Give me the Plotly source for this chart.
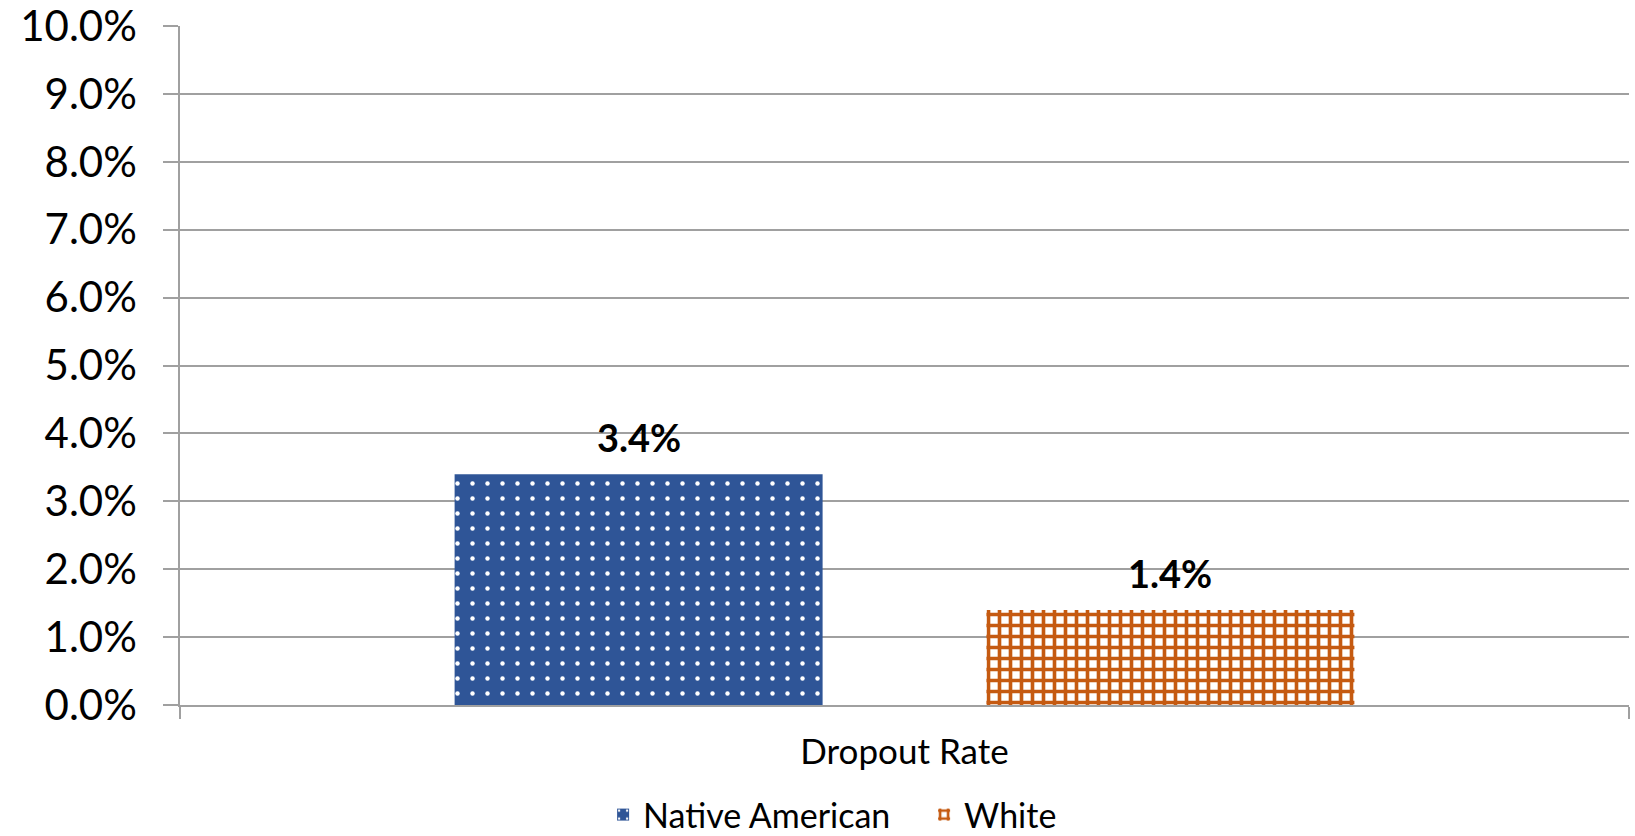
import plotly.graph_objects as go

categories = ["Dropout Rate"]
series_names = ["Native American", "White"]
native_values = [0.034]
white_values = [0.014]
y_tick_values = [0.0, 0.01, 0.02, 0.03, 0.04, 0.05, 0.06, 0.07, 0.08, 0.09, 0.10]
y_tick_labels = ["0.0%", "1.0%", "2.0%", "3.0%", "4.0%", "5.0%", "6.0%", "7.0%", "8.0%", "9.0%", "10.0%"]

BLUE = "#2F5597"
ORANGE = "#C55A11"
GRID = "#A0A0A0"
FONT = "Lato"

BARGAP = 0.266
BARGROUPGAP = 0.308

fig = go.Figure()
fig.add_trace(go.Bar(
    name=series_names[0], x=categories, y=native_values,
    marker=dict(color=BLUE, line=dict(width=0),
                pattern=dict(shape=".", bgcolor=BLUE, fgcolor="white", fgopacity=1,
                             size=15, solidity=0.07, fillmode="replace")),
    hoverinfo="skip",
))
fig.add_trace(go.Bar(
    name=series_names[1], x=categories, y=white_values,
    marker=dict(color=ORANGE, line=dict(width=0),
                pattern=dict(shape="+", bgcolor="white", fgcolor=ORANGE, fgopacity=1,
                             size=11, solidity=0.55, fillmode="replace")),
    hoverinfo="skip",
))

# data labels above bars
group_w = 1 - BARGAP
offsets = [-group_w / 4, group_w / 4]
for off, vals in zip(offsets, [native_values, white_values]):
    for i, v in enumerate(vals):
        fig.add_annotation(
            x=i + off, y=v, xref="x", yref="y",
            text="<b>%.1f%%</b>" % (v * 100),
            showarrow=False, yanchor="bottom", yshift=12,
            font=dict(family=FONT, size=38, color="black"),
        )

fig.update_layout(
    width=1635, height=836,
    margin=dict(l=180, r=6, t=26, b=131, autoexpand=False),
    paper_bgcolor="white", plot_bgcolor="white",
    barmode="group", bargap=BARGAP, bargroupgap=BARGROUPGAP,
    font=dict(family=FONT, color="black"),
    showlegend=True,
    legend=dict(orientation="h", x=0.292, xanchor="left", y=-0.162, yanchor="middle",
                entrywidth=276, entrywidthmode="pixels",
                font=dict(family=FONT, size=34, color="black"),
                bgcolor="rgba(0,0,0,0)", itemclick=False, itemdoubleclick=False),
)
fig.update_yaxes(
    range=[0, 0.10001], tickvals=y_tick_values, ticktext=y_tick_labels,
    showgrid=True, gridcolor=GRID, gridwidth=1.5,
    showline=True, linecolor=GRID, linewidth=1.5,
    ticks="outside", ticklen=15, tickcolor=GRID, tickwidth=1.5,
    ticklabelstandoff=18, ticklabeloverflow="allow",
    tickfont=dict(family=FONT, size=42, color="black"),
    zeroline=False, fixedrange=True,
)
fig.update_xaxes(
    type="category",
    showline=True, linecolor=GRID, linewidth=1.5, mirror=False,
    ticks="outside", ticklen=12, tickcolor=GRID, tickwidth=1.5,
    tickson="boundaries", ticklabelstandoff=15,
    tickfont=dict(family=FONT, size=35, color="black"),
    showgrid=False, fixedrange=True,
)

fig.write_html("out.html", config={"displayModeBar": False},
               post_script="document.body.style.margin='0';document.body.style.overflow='hidden';")
